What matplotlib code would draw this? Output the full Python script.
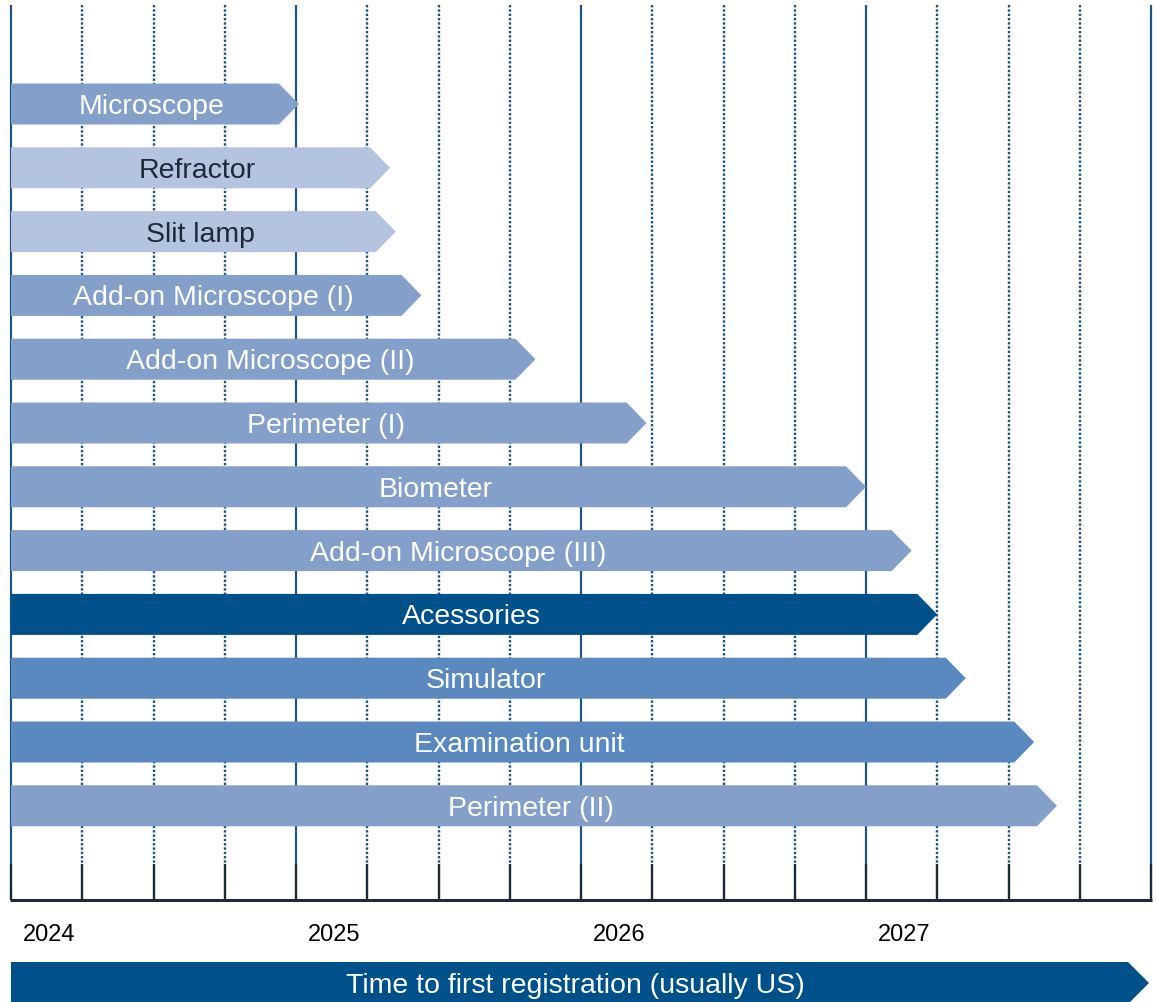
import numpy as np
import matplotlib.pyplot as plt
from matplotlib.patches import Polygon

# data
products = ["Microscope", "Refractor", "Slit lamp", "Add-on Microscope (I)",
            "Add-on Microscope (II)", "Perimeter (I)", "Biometer",
            "Add-on Microscope (III)", "Acessories", "Simulator",
            "Examination unit", "Perimeter (II)"]
end_dates = [2025.01, 2025.33, 2025.35, 2025.44, 2025.84, 2026.23,
             2027.00, 2027.16, 2027.25, 2027.35, 2027.59, 2027.67]
shades = ["mid", "light", "light", "mid", "mid", "mid",
          "mid", "mid", "dark", "strong", "strong", "mid"]
years = [2024, 2025, 2026, 2027]
axis_title = "Time to first registration (usually US)"

fill = {"mid": "#849fca", "light": "#b4c4de", "dark": "#00508a", "strong": "#5a89c0"}
text_col = {"mid": "white", "light": "#1b2a3b", "dark": "white", "strong": "white"}
navy = "#1e5583"
dark = "#1a2b3c"

plt.rcParams['font.family'] = ['Liberation Sans', 'DejaVu Sans']

W, H = 1157, 1002
px_year = 285.0          # pixels per year
x_left = 11              # pixel of 2024
start = years[0]

fig = plt.figure(figsize=(W / 100, H / 100), dpi=100)
ax = fig.add_axes([0, 0, 1, 1])
ax.set_xlim(start - x_left / px_year, start + (W - x_left) / px_year)
ax.set_ylim(H, 0)        # y in pixel rows
ax.axis('off')

def lw(px):
    return px * 72 / 100

# grid: year lines solid, quarter lines dotted, dark ticks at the bottom
for k in range(17):
    x = start + k / 4
    if k % 4 == 0:
        ax.vlines(x, 5, 864, color=navy, lw=lw(2.2), zorder=1)
    else:
        ax.vlines(x, 5, 864, color=navy, lw=lw(2.4), linestyles=(0, (1, 0.8)), zorder=1)
    ax.vlines(x, 864, 900, color=dark, lw=lw(2.4), zorder=1)
ax.hlines(900, start - 0.004, start + 4.004, color=dark, lw=lw(3), zorder=2)

# arrow bars
row0, pitch, half = 104, 63.8, 20.5
tip = 20 / px_year
for i, (name, end, s) in enumerate(zip(products, end_dates, shades)):
    yc = row0 + i * pitch
    pts = [(start, yc - half), (end - tip, yc - half), (end, yc),
           (end - tip, yc + half), (start, yc + half)]
    ax.add_patch(Polygon(pts, closed=True, facecolor=fill[s], edgecolor='none', zorder=3))
    ax.text((start + end) / 2 - 3 / px_year, yc + 3, name, ha='center', va='center',
            fontsize=20.5, color=text_col[s], zorder=4)

# year labels
for y in years:
    ax.text(y + 0.135, 935, str(y), ha='center', va='center', fontsize=17, color='black')

# bottom banner arrow
b_end = start + (1149 - x_left) / px_year
b_top, b_mid = 962, 983
b_bot = 2 * b_mid - b_top
pts = [(start, b_top), (b_end - 21 / px_year, b_top), (b_end, b_mid),
       (b_end - 21 / px_year, b_bot), (start, b_bot)]
ax.add_patch(Polygon(pts, closed=True, facecolor=fill["dark"], edgecolor='none', zorder=3))
ax.text(start + (575 - x_left) / px_year, b_mid + 3, axis_title, ha='center', va='center',
        fontsize=20.5, color='white', zorder=4)

fig.savefig("out.png", dpi=100)
